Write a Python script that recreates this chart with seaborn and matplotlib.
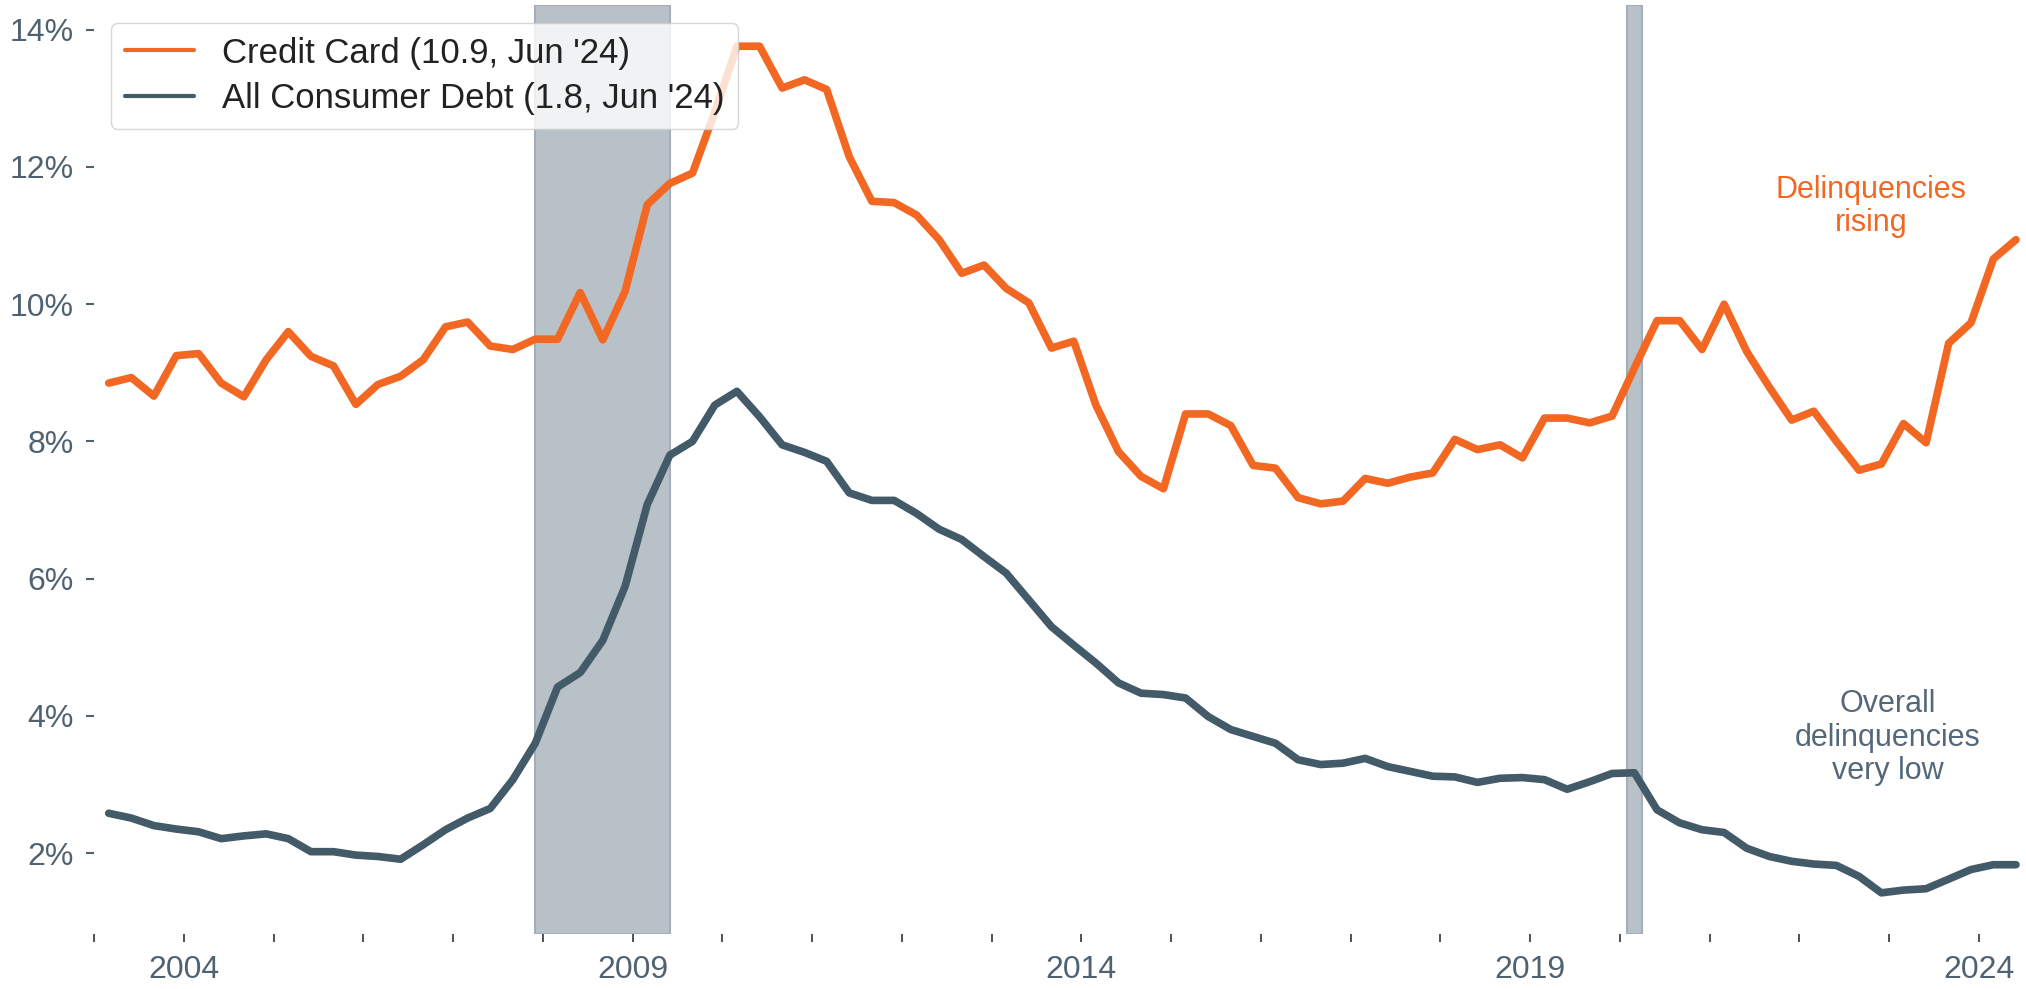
import numpy as np
import pandas as pd
import matplotlib
matplotlib.use("Agg")
import matplotlib.pyplot as plt
import matplotlib.dates as mdates
from matplotlib.ticker import FuncFormatter
import seaborn as sns

# quarterly series, 2003Q1 .. 2024Q2
quarter_start = "2003-03-01"
credit_card = [
    8.85, 8.93, 8.66, 9.25, 9.28, 8.85, 8.65, 9.19, 9.60, 9.24,
    9.10, 8.54, 8.83, 8.95, 9.19, 9.67, 9.74, 9.39, 9.34, 9.49,
    9.49, 10.17, 9.48, 10.19, 11.45, 11.76, 11.91, 12.80, 13.76, 13.76,
    13.15, 13.27, 13.13, 12.15, 11.50, 11.48, 11.30, 10.94, 10.45, 10.57,
    10.23, 10.02, 9.36, 9.46, 8.53, 7.85, 7.49, 7.31, 8.40, 8.40,
    8.23, 7.65, 7.61, 7.18, 7.09, 7.13, 7.46, 7.39, 7.48, 7.54,
    8.03, 7.88, 7.95, 7.76, 8.34, 8.34, 8.27, 8.37, 9.07, 9.76,
    9.76, 9.34, 10.00, 9.31, 8.79, 8.31, 8.44, 8.00, 7.58, 7.67,
    8.26, 7.98, 9.43, 9.73, 10.66, 10.94,
]
all_consumer = [
    2.58, 2.51, 2.40, 2.35, 2.31, 2.21, 2.25, 2.28, 2.21, 2.02,
    2.02, 1.97, 1.95, 1.91, 2.12, 2.34, 2.51, 2.65, 3.07, 3.60,
    4.42, 4.63, 5.10, 5.89, 7.08, 7.80, 8.00, 8.53, 8.73, 8.36,
    7.95, 7.84, 7.71, 7.25, 7.14, 7.14, 6.95, 6.72, 6.57, 6.32,
    6.08, 5.69, 5.30, 5.03, 4.77, 4.48, 4.33, 4.31, 4.26, 3.99,
    3.80, 3.70, 3.60, 3.36, 3.29, 3.31, 3.38, 3.26, 3.19, 3.12,
    3.11, 3.03, 3.09, 3.10, 3.07, 2.93, 3.04, 3.16, 3.17, 2.63,
    2.44, 2.34, 2.30, 2.07, 1.95, 1.88, 1.84, 1.82, 1.66, 1.42,
    1.46, 1.48, 1.62, 1.76, 1.83, 1.83,
]
series_names = ["Credit Card (10.9, Jun '24)", "All Consumer Debt (1.8, Jun '24)"]
recessions = [("2007-12-01", "2009-06-01"), ("2020-02-01", "2020-04-01")]
year_labels = [2004, 2009, 2014, 2019, 2024]

ORANGE = "#F26722"
SLATE = "#435A69"
TICK_GREY = "#4F6272"
BAND = "#B9C1C8"

dates = pd.date_range(quarter_start, periods=len(credit_card), freq="3MS")
df = pd.concat([
    pd.DataFrame({"date": dates, "value": credit_card, "series": series_names[0]}),
    pd.DataFrame({"date": dates, "value": all_consumer, "series": series_names[1]}),
])

sns.set_style("white")
plt.rcParams["font.family"] = ["Liberation Sans", "DejaVu Sans"]

fig = plt.figure(figsize=(20.26, 9.89), dpi=100)
ax = fig.add_axes([0.0465, 0.0556, 0.9522, 0.9393])

for start, end in recessions:
    ax.axvspan(pd.Timestamp(start), pd.Timestamp(end), facecolor=BAND,
               edgecolor="#A3AEB8", linewidth=1.5, zorder=0)

sns.lineplot(data=df, x="date", y="value", hue="series",
             palette=[ORANGE, SLATE], linewidth=5.5, ax=ax, zorder=3)

ax.set_xlim(pd.Timestamp("2003-01-01"), pd.Timestamp("2024-07-01"))
ax.set_ylim(0.82, 14.36)
ax.set_xlabel("")
ax.set_ylabel("")

ax.set_xticks(mdates.date2num([pd.Timestamp(f"{y}-01-01") for y in year_labels]))
ax.xaxis.set_major_formatter(mdates.DateFormatter("%Y"))
ax.xaxis.set_minor_locator(mdates.YearLocator(1))
ax.set_yticks([2, 4, 6, 8, 10, 12, 14])
ax.yaxis.set_major_formatter(FuncFormatter(lambda v, p: f"{v:.0f}%"))

for s in ax.spines.values():
    s.set_visible(False)

ax.tick_params(axis="x", which="both", bottom=True, length=6, width=1.2,
               color="#333333", labelsize=23, labelcolor=TICK_GREY, pad=9)
ax.tick_params(axis="y", left=True, length=6, width=1.5, color=TICK_GREY,
               labelsize=23, labelcolor=TICK_GREY, pad=9)

leg = ax.legend(loc="upper left", bbox_to_anchor=(0.0087, 0.981), borderaxespad=0,
                fontsize=25, frameon=True, framealpha=0.8, edgecolor="#CCCCCC",
                fancybox=True, handlelength=2.0, labelspacing=0.35)
for line in leg.get_lines():
    line.set_linewidth(3)
for t in leg.get_texts():
    t.set_color("#222222")

ax.text(pd.Timestamp("2022-10-20"), 11.42, "Delinquencies\nrising", color=ORANGE,
        fontsize=22, ha="center", va="center", linespacing=1.15)
ax.text(pd.Timestamp("2022-12-28"), 3.68, "Overall\ndelinquencies\nvery low",
        color="#54687A", fontsize=22, ha="center", va="center", linespacing=1.15)

fig.savefig("out.png", dpi=100)
